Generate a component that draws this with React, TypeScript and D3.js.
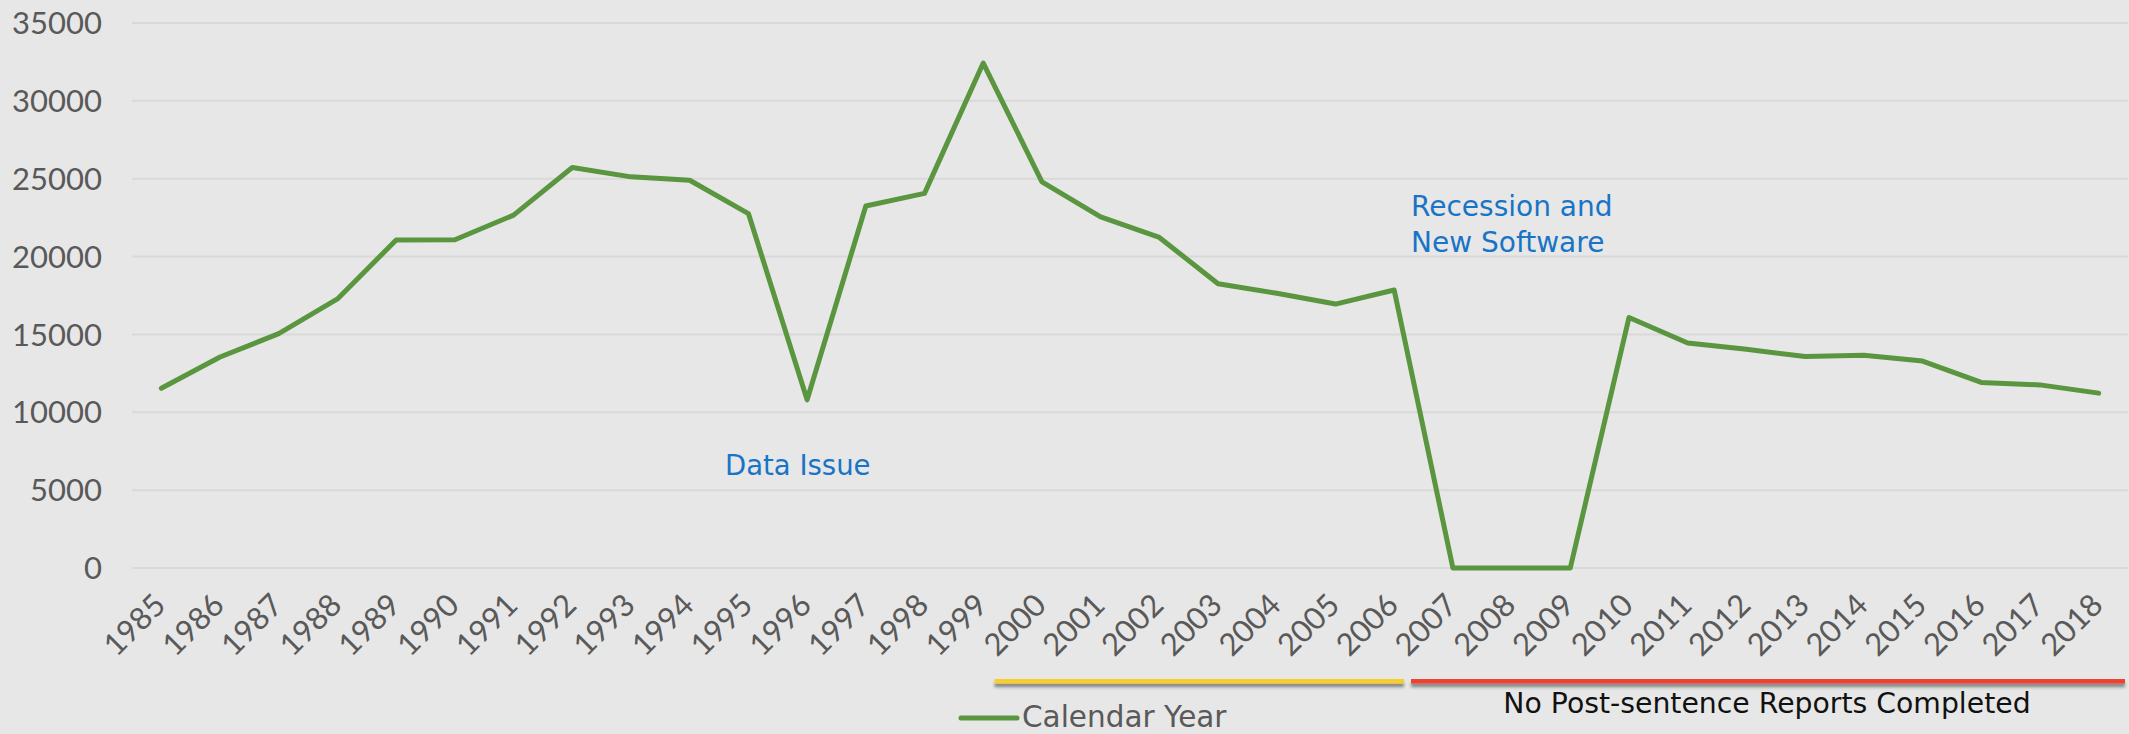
import React from "react";
import * as d3 from "d3";

const years: string[] = [
  "1985","1986","1987","1988","1989","1990","1991","1992","1993","1994",
  "1995","1996","1997","1998","1999","2000","2001","2002","2003","2004",
  "2005","2006","2007","2008","2009","2010","2011","2012","2013","2014",
  "2015","2016","2017","2018",
];
const calendarYear: number[] = [
  11540, 13550, 15050, 17280, 21060, 21080, 22660, 25720, 25120, 24900,
  22760, 10800, 23250, 24060, 32430, 24800, 22550, 21230, 18250, 17640,
  16950, 17850, 0, 0, 0, 16090, 14450, 14050, 13580, 13660,
  13290, 11920, 11760, 11230,
];
const yTicks: number[] = [0, 5000, 10000, 15000, 20000, 25000, 30000, 35000];
const seriesName = "Calendar Year";
const annotations = ["Data Issue", "Recession and", "New Software"];
const bracketNote = "No Post-sentence Reports Completed";

const W = 2129;
const H = 734;
const AXIS_FONT = "Lato, 'Open Sans', sans-serif";
const TEXT_FONT = "'DejaVu Sans', Verdana, sans-serif";

export default function App() {
  const x = d3.scaleBand<string>().domain(years).range([132, 2128]);
  const y = d3.scaleLinear().domain([0, 35000]).range([568, 23]);
  const cx = (d: string) => (x(d) as number) + x.bandwidth() / 2;
  const line = d3
    .line<number>()
    .x((_, i) => cx(years[i]))
    .y((v) => y(v));

  return (
    <svg
      width={W}
      height={H}
      style={{ position: "absolute", left: 0, top: 0, background: "#e7e7e7" }}
    >
      <defs>
        <filter id="shadow" filterUnits="userSpaceOnUse" x={0} y={655} width={W} height={50}>
          <feDropShadow dx="0" dy="3.5" stdDeviation="1.8" floodColor="#3a3a3a" floodOpacity="0.6" />
        </filter>
      </defs>
      <rect x={0} y={0} width={W} height={H} fill="#e7e7e7" />
      {yTicks.map((t) => (
        <g key={t}>
          <line x1={132} x2={2128} y1={y(t)} y2={y(t)} stroke="#d9d9d9" strokeWidth={2} />
          <text
            x={102}
            y={y(t)}
            dy="0.36em"
            textAnchor="end"
            fontFamily={AXIS_FONT}
            fontSize={31}
            fill="#595959"
          >
            {t}
          </text>
        </g>
      ))}
      {years.map((yr) => (
        <text
          key={yr}
          transform={`translate(${cx(yr) + 6},${607}) rotate(-45)`}
          textAnchor="end"
          fontFamily={AXIS_FONT}
          fontSize={31}
          fill="#595959"
        >
          {yr}
        </text>
      ))}
      <path
        d={line(calendarYear) || ""}
        fill="none"
        stroke="#5a953f"
        strokeWidth={5}
        strokeLinejoin="round"
        strokeLinecap="round"
      />
      <text x={725} y={475} fontFamily={TEXT_FONT} fontSize={27.5} fill="#1874c6">
        {annotations[0]}
      </text>
      <text x={1411} y={216} fontFamily={TEXT_FONT} fontSize={28} fill="#1874c6">
        {annotations[1]}
      </text>
      <text x={1411} y={252} fontFamily={TEXT_FONT} fontSize={28} fill="#1874c6">
        {annotations[2]}
      </text>
      <g filter="url(#shadow)">
        <rect x={994.5} y={679} width={409.5} height={4.5} fill="#f7cf2c" />
        <rect x={1411} y={679} width={714} height={4.5} fill="#ee4331" />
      </g>
      <text
        x={1767}
        y={713}
        textAnchor="middle"
        fontFamily={TEXT_FONT}
        fontSize={28.3}
        fill="#111"
      >
        {bracketNote}
      </text>
      <line x1={961} x2={1017} y1={718} y2={718} stroke="#5a953f" strokeWidth={5} strokeLinecap="round" />
      <text x={1022} y={727} fontFamily={TEXT_FONT} fontSize={29.5} fill="#595959">
        {seriesName}
      </text>
    </svg>
  );
}
